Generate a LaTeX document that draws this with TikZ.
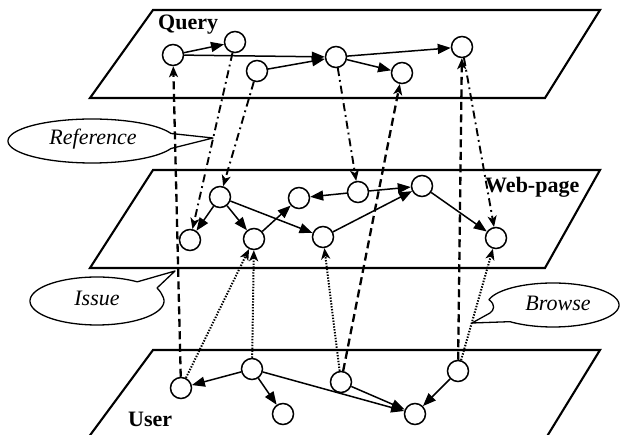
\documentclass[tikz,border=0pt]{standalone}
\usepackage{fontspec}
\setmainfont{Liberation Serif}
\usetikzlibrary{arrows.meta}
\begin{document}
\begin{tikzpicture}[x=1pt,y=-1pt,
  plane/.style={line width=2.1pt, line join=miter},
  vtx/.style={circle, draw, line width=1.5pt, minimum size=21pt, inner sep=0pt, fill=white},
  link/.style={line width=1.5pt, -{Triangle[length=13pt,width=10pt]}},
  issue/.style={line width=2.3pt, dash pattern=on 8pt off 4.5pt, -{Stealth[length=11pt,width=9pt,inset=3pt]}},
  browse/.style={line width=2pt, dash pattern=on 1.4pt off 1.5pt, -{Stealth[length=11pt,width=9pt,inset=3pt]}},
  refer/.style={line width=1.9pt, dash pattern=on 8pt off 4pt on 1.8pt off 4pt, -{Stealth[length=11pt,width=9pt,inset=3pt]}},
  layer/.style={font=\bfseries\fontsize{22}{24}\selectfont, inner sep=0pt},
  tag/.style={font=\itshape\fontsize{22}{24}\selectfont, inner sep=0pt},
  bubble/.style={line width=1.3pt, line join=round}
]
\useasboundingbox (0,0) rectangle (622,435);

% the three layers
\draw[plane] (153,10) -- (600,10) -- (545,98) -- (90,98) -- cycle;
\draw[plane] (153,170) -- (600,170) -- (545,268) -- (90,268) -- cycle;
\draw[plane] (88,438) -- (153,350) -- (600,350) -- (546,438);

\node[layer, anchor=base west] (lq) at (158,30) {Query};
\node[layer, anchor=base west] (lw) at (485,193) {Web-page};
\node[layer, anchor=base west] (lu) at (128,427) {User};

% speech bubbles
\draw[bubble] (213,138) -- plot[domain=20:340, samples=90] ({92+84*cos(\x)},{141+22*sin(\x)}) -- cycle;
\node[tag, anchor=base] (tref) at (93,145) {Reference};

\draw[bubble] (175,271) -- (157,288) .. controls (160,291) and (162,294) .. ({97+67*cos(-10)},{301+24*sin(-10)})
  -- plot[domain=-10:307, samples=90] ({97+67*cos(\x)},{301+24*sin(\x)}) -- cycle;
\node[tag, anchor=base] (tiss) at (97,306) {Issue};

\draw[bubble] (472,323) -- plot[domain=130.7:-166, samples=90] ({553+66*cos(\x)},{305+22*sin(\x)})
  .. controls (496,305) and (494,310) .. (490,313) -- cycle;
\node[tag, anchor=base] (tbro) at (558,311) {Browse};

% query layer
\node[vtx] (q1) at (173,55) {};
\node[vtx] (q2) at (235,42) {};
\node[vtx] (q3) at (257,71) {};
\node[vtx] (q4) at (336,57) {};
\node[vtx] (q5) at (402,73) {};
\node[vtx] (q6) at (462,47) {};

% web-page layer
\node[vtx] (w1) at (190,240) {};
\node[vtx] (w2) at (220,197) {};
\node[vtx] (w3) at (254,239) {};
\node[vtx] (w4) at (299,198) {};
\node[vtx] (w5) at (323,237) {};
\node[vtx] (w6) at (358,192) {};
\node[vtx] (w7) at (422,186) {};
\node[vtx] (w8) at (496,238) {};

% user layer
\node[vtx] (u1) at (181,388) {};
\node[vtx] (u2) at (252,369) {};
\node[vtx] (u3) at (283,414) {};
\node[vtx] (u4) at (341,382) {};
\node[vtx] (u5) at (415,414) {};
\node[vtx] (u6) at (458,371) {};

% links inside each layer
\draw[link] (q1) -- (q2);
\draw[link] (q1) -- (q4);
\draw[link] (q3) -- (q4);
\draw[link] (q4) -- (q5);
\draw[link] (q4) -- (q6);

\draw[link] (w2) -- (w1);
\draw[link] (w2) -- (w3);
\draw[link] (w2) -- (w5);
\draw[link] (w3) -- (w4);
\draw[link] (w6) -- (w4);
\draw[link] (w6) -- (w7);
\draw[link] (w5) -- (w7);
\draw[link] (w7) -- (w8);

\draw[link] (u2) -- (u1);
\draw[link] (u2) -- (u3);
\draw[link] (u2) -- (u5);
\draw[link] (u4) -- (u5);
\draw[link] (u6) -- (u5);

% issue: user -> query
\draw[issue] (u1) -- (q1);
\draw[issue] (u4) -- (q5);
\draw[issue] (u6) -- (q6);

% browse: user -> web-page
\draw[browse] (u1) -- (w3);
\draw[browse] (u2) -- (w3);
\draw[browse] (u4) -- (w5);
\draw[browse] (u6) -- (w8);

% reference: query -> web-page
\draw[refer] (q2) -- (w1);
\draw[refer] (q3) -- (w2);
\draw[refer] (q4) -- (w6);
\draw[refer] (q6) -- (w8);
\end{tikzpicture}
\end{document}
